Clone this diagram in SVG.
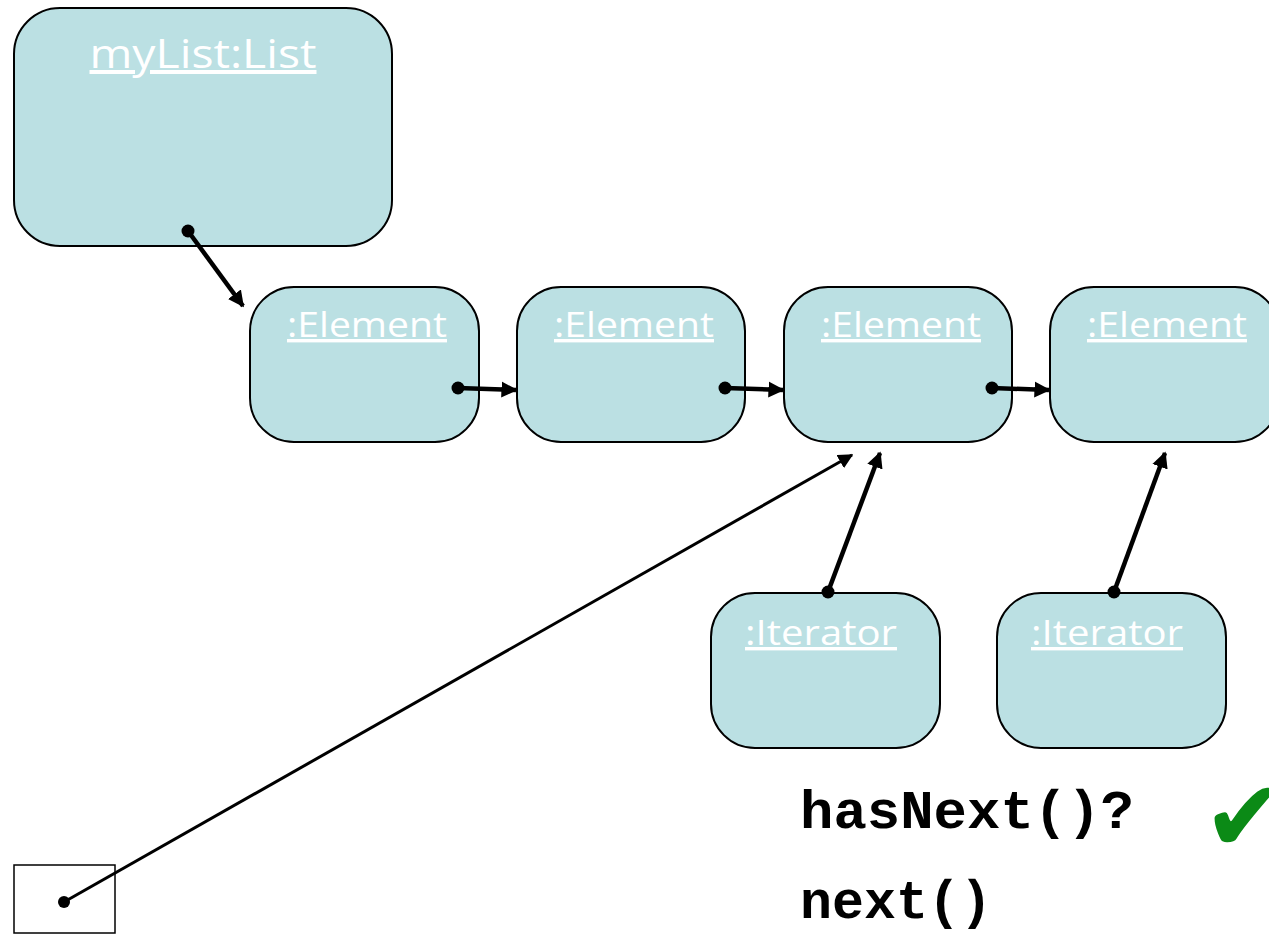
<svg xmlns="http://www.w3.org/2000/svg" width="1269" height="934" viewBox="0 0 1269 934">
<defs>
<style>
.box{fill:#bbe0e3;stroke:#000;stroke-width:2}
.lbl{fill:#fff;font-family:"Open Sans","Noto Sans",sans-serif;text-decoration:underline;text-anchor:middle}
.big{font-size:40px}
.mid{font-size:34px}
.code{font-family:"Liberation Mono","Courier New",monospace;font-weight:bold;font-size:54px;fill:#000}
.c{stroke:#000;stroke-width:4.5;fill:none}
.c2{stroke:#000;stroke-width:3;fill:none}
</style>
<marker id="ah" viewBox="0 0 10 10" refX="9" refY="5" markerWidth="3.6" markerHeight="3.6" markerUnits="strokeWidth" orient="auto">
<path d="M0,0 L10,5 L0,10 z" fill="#000"/>
</marker>
<marker id="ah2" viewBox="0 0 10 10" refX="9" refY="5" markerWidth="5" markerHeight="5" markerUnits="strokeWidth" orient="auto">
<path d="M0,0 L10,5 L0,10 z" fill="#000"/>
</marker>
</defs>
<rect width="1269" height="934" fill="#fff"/>
<g id="myList"><rect class="box" x="14" y="8" width="378" height="238" rx="46"/><text class="lbl big" x="203" y="68" textLength="227" lengthAdjust="spacingAndGlyphs">myList:List</text></g>
<g id="element1"><rect class="box" x="250" y="287" width="229" height="155" rx="44"/><text class="lbl mid" x="367" y="337" textLength="160" lengthAdjust="spacingAndGlyphs">:Element</text></g>
<g id="element2"><rect class="box" x="517" y="287" width="228" height="155" rx="44"/><text class="lbl mid" x="634" y="337" textLength="160" lengthAdjust="spacingAndGlyphs">:Element</text></g>
<g id="element3"><rect class="box" x="784" y="287" width="228" height="155" rx="44"/><text class="lbl mid" x="901" y="337" textLength="160" lengthAdjust="spacingAndGlyphs">:Element</text></g>
<g id="element4"><rect class="box" x="1050" y="287" width="229" height="155" rx="44"/><text class="lbl mid" x="1167" y="337" textLength="160" lengthAdjust="spacingAndGlyphs">:Element</text></g>
<g id="iterator1"><rect class="box" x="711" y="593" width="229" height="155" rx="44"/><text class="lbl mid" x="821" y="645" textLength="152" lengthAdjust="spacingAndGlyphs">:Iterator</text></g>
<g id="iterator2"><rect class="box" x="997" y="593" width="229" height="155" rx="44"/><text class="lbl mid" x="1107" y="645" textLength="152" lengthAdjust="spacingAndGlyphs">:Iterator</text></g>
<g id="var"><rect x="14" y="865" width="101" height="68" fill="#fff" stroke="#000" stroke-width="1.5"/></g>
<g id="connectors">
<line class="c" x1="188" y1="231" x2="243" y2="306" marker-end="url(#ah)"/><circle cx="188" cy="231" r="6.5"/>
<line class="c" x1="458" y1="388" x2="516" y2="390" marker-end="url(#ah)"/><circle cx="458" cy="388" r="6.5"/>
<line class="c" x1="725" y1="388" x2="783" y2="390" marker-end="url(#ah)"/><circle cx="725" cy="388" r="6.5"/>
<line class="c" x1="992" y1="388" x2="1049" y2="390" marker-end="url(#ah)"/><circle cx="992" cy="388" r="6.5"/>
<line class="c" x1="828" y1="592" x2="880" y2="453" marker-end="url(#ah)"/><circle cx="828" cy="592" r="6.5"/>
<line class="c" x1="1114" y1="592" x2="1165" y2="453" marker-end="url(#ah)"/><circle cx="1114" cy="592" r="6.5"/>
<line class="c2" x1="64" y1="902" x2="852" y2="455" marker-end="url(#ah2)"/><circle cx="64" cy="902" r="6"/>
</g>
<g id="notes">
<text class="code" x="800" y="828" textLength="334" lengthAdjust="spacingAndGlyphs">hasNext()?</text>
<text class="code" x="800" y="918" textLength="192" lengthAdjust="spacingAndGlyphs">next()</text>
<text x="1203" y="851" font-family="DejaVu Sans,sans-serif" font-size="100" fill="#0b8a16">✔</text>
</g>
</svg>
